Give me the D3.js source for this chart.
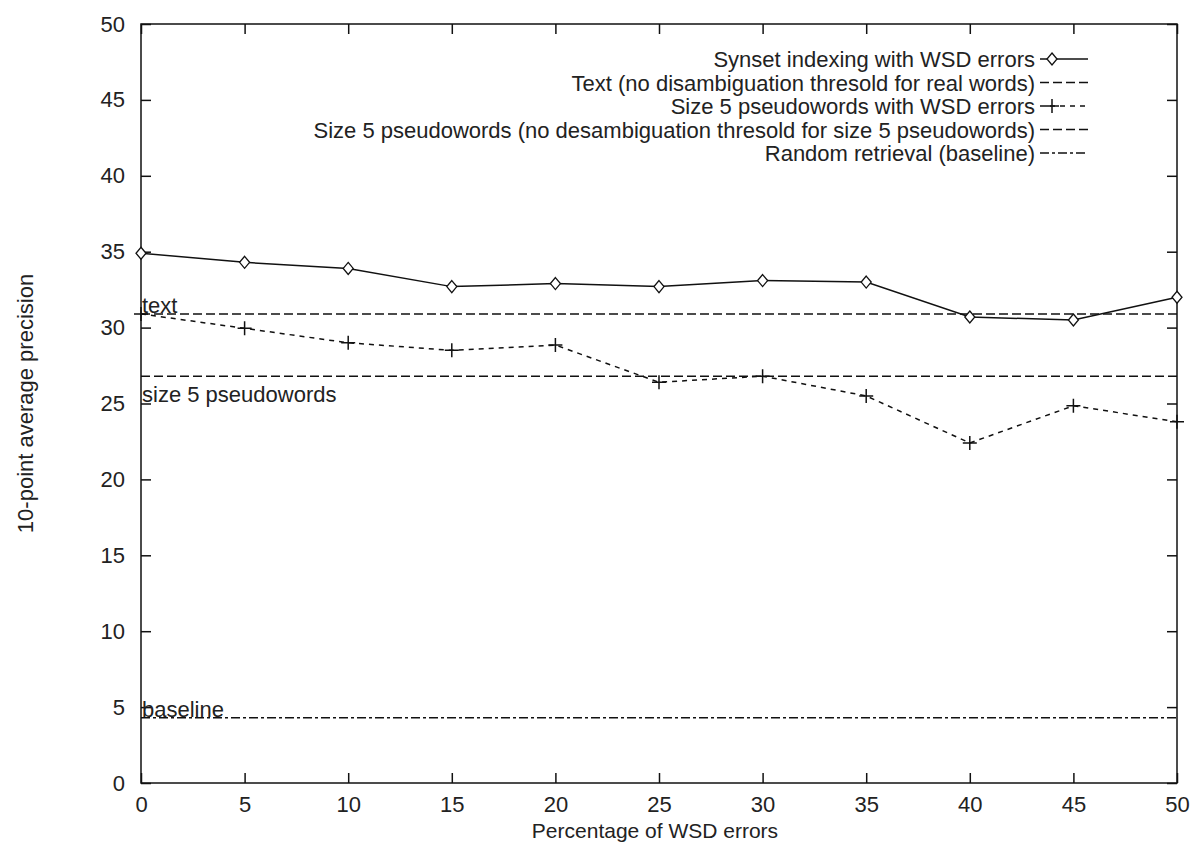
<!DOCTYPE html>
<html>
<head>
<meta charset="utf-8">
<script src="https://cdn.jsdelivr.net/npm/d3@7"></script>
<style>
  body { margin: 0; background: #fff; }
  text { font-family: "Liberation Sans", Arial, sans-serif; fill: #222; }
</style>
</head>
<body>
<script>
// data
const errorPct = [0, 5, 10, 15, 20, 25, 30, 35, 40, 45, 50];
const synsetWsd = [34.9, 34.3, 33.9, 32.7, 32.9, 32.7, 33.1, 33.0, 30.7, 30.5, 32.0];
const pseudoWsd = [30.9, 29.95, 29.0, 28.5, 28.85, 26.4, 26.8, 25.5, 22.4, 24.85, 23.8];
const textLevel = 30.9;
const pseudoLevel = 26.8;
const baselineLevel = 4.3;
const xTicks = [0, 5, 10, 15, 20, 25, 30, 35, 40, 45, 50];
const yTicks = [0, 5, 10, 15, 20, 25, 30, 35, 40, 45, 50];
const legendLabels = [
  "Synset indexing with WSD errors",
  "Text (no disambiguation thresold for real words)",
  "Size 5 pseudowords with WSD errors",
  "Size 5 pseudowords (no desambiguation thresold for size 5 pseudowords)",
  "Random retrieval (baseline)"
];

const width = 1193;
const height = 843;
// plot box edges
const plotL = 141, plotR = 1177, plotT = 24, plotB = 783;
const fs = 22;

let svg = d3.select("body").append("svg")
  .attr("width", width)
  .attr("height", height);

let x = d3.scaleLinear().domain([0, 50]).range([plotL, plotR]);
let y = d3.scaleLinear().domain([0, 50]).range([plotB, plotT]);

const ink = "#111";
const tickLen = 10;

// frame
svg.append("rect")
  .attr("x", plotL).attr("y", plotT)
  .attr("width", plotR - plotL).attr("height", plotB - plotT)
  .attr("fill", "none").attr("stroke", ink).attr("stroke-width", 1.5);

// ticks pointing inward on all four sides
let bottomAxis = svg.append("g").attr("transform", "translate(0," + plotB + ")")
  .call(d3.axisBottom(x).tickValues(xTicks).tickSize(-tickLen).tickPadding(13));
let topAxis = svg.append("g").attr("transform", "translate(0," + plotT + ")")
  .call(d3.axisTop(x).tickValues(xTicks).tickSize(-tickLen).tickFormat(""));
let leftAxis = svg.append("g").attr("transform", "translate(" + plotL + ",0)")
  .call(d3.axisLeft(y).tickValues(yTicks).tickSize(-tickLen).tickPadding(16));
let rightAxis = svg.append("g").attr("transform", "translate(" + plotR + ",0)")
  .call(d3.axisRight(y).tickValues(yTicks).tickSize(-tickLen).tickFormat(""));

[bottomAxis, topAxis, leftAxis, rightAxis].forEach(function(a) {
  a.select(".domain").remove();
  a.selectAll("line").attr("stroke", ink).attr("stroke-width", 1.5);
  a.selectAll("text").attr("font-size", fs).attr("fill", "#222")
    .attr("font-family", "Liberation Sans, Arial, sans-serif");
});

// axis titles
svg.append("text")
  .attr("x", 655).attr("y", 838)
  .attr("text-anchor", "middle").attr("font-size", 21)
  .text("Percentage of WSD errors");

svg.append("text")
  .attr("transform", "translate(33," + ((plotT + plotB) / 2) + ") rotate(-90)")
  .attr("text-anchor", "middle").attr("font-size", fs)
  .text("10-point average precision");

// horizontal reference lines
function hline(v, dash) {
  svg.append("line")
    .attr("x1", x(0)).attr("x2", x(50))
    .attr("y1", y(v)).attr("y2", y(v))
    .attr("stroke", ink).attr("stroke-width", 1.5)
    .attr("stroke-dasharray", dash);
}
hline(textLevel, "9,4");
hline(pseudoLevel, "9,4");
hline(baselineLevel, "9,3,3,3");

// in-plot labels
svg.append("text").attr("x", x(0) + 1).attr("y", y(textLevel) - 1)
  .attr("font-size", fs).text("text");
svg.append("text").attr("x", x(0) + 1).attr("y", y(pseudoLevel) + 26)
  .attr("font-size", fs).text("size 5 pseudowords");
svg.append("text").attr("x", x(0) + 1).attr("y", y(baselineLevel) - 1)
  .attr("font-size", fs).text("baseline");

let line = d3.line()
  .x(function(d, i) { return x(errorPct[i]); })
  .y(function(d) { return y(d); });

// synset indexing series
svg.append("path")
  .attr("d", line(synsetWsd))
  .attr("fill", "none").attr("stroke", ink).attr("stroke-width", 1.5);

let diamond = "M0,-6L5,0L0,6L-5,0Z";
svg.selectAll(".synPt").data(synsetWsd).enter().append("path")
  .attr("class", "synPt")
  .attr("d", diamond)
  .attr("transform", function(d, i) { return "translate(" + x(errorPct[i]) + "," + y(d) + ")"; })
  .attr("fill", "#fff").attr("stroke", ink).attr("stroke-width", 1.3);

// pseudowords series
svg.append("path")
  .attr("d", line(pseudoWsd))
  .attr("fill", "none").attr("stroke", ink).attr("stroke-width", 1.5)
  .attr("stroke-dasharray", "5,5");

let plus = "M-7,0H7M0,-7V7";
svg.selectAll(".psPt").data(pseudoWsd).enter().append("path")
  .attr("class", "psPt")
  .attr("d", plus)
  .attr("transform", function(d, i) { return "translate(" + x(errorPct[i]) + "," + y(d) + ")"; })
  .attr("fill", "none").attr("stroke", ink).attr("stroke-width", 1.5);

// legend
const legendStyles = [
  { dash: null, mark: "diamond" },
  { dash: "9,4", mark: null },
  { dash: "5,5", mark: "plus" },
  { dash: "9,4", mark: null },
  { dash: "9,3,3,3", mark: null }
];
const lgTextX = 1035, lgX1 = 1040, lgX2 = 1088, lgY0 = 59, lgStep = 23.5, lgMarkX = 1052;

legendLabels.forEach(function(lbl, i) {
  let yy = lgY0 + i * lgStep;
  svg.append("text")
    .attr("x", lgTextX).attr("y", yy + 8)
    .attr("text-anchor", "end").attr("font-size", fs)
    .text(lbl);
  svg.append("line")
    .attr("x1", lgX1).attr("x2", lgX2).attr("y1", yy).attr("y2", yy)
    .attr("stroke", ink).attr("stroke-width", 1.5)
    .attr("stroke-dasharray", legendStyles[i].dash);
  if (legendStyles[i].mark === "diamond") {
    svg.append("path").attr("d", diamond)
      .attr("transform", "translate(" + lgMarkX + "," + yy + ")")
      .attr("fill", "#fff").attr("stroke", ink).attr("stroke-width", 1.3);
  } else if (legendStyles[i].mark === "plus") {
    svg.append("path").attr("d", plus)
      .attr("transform", "translate(" + lgMarkX + "," + yy + ")")
      .attr("fill", "none").attr("stroke", ink).attr("stroke-width", 1.5);
  }
});
</script>
</body>
</html>
